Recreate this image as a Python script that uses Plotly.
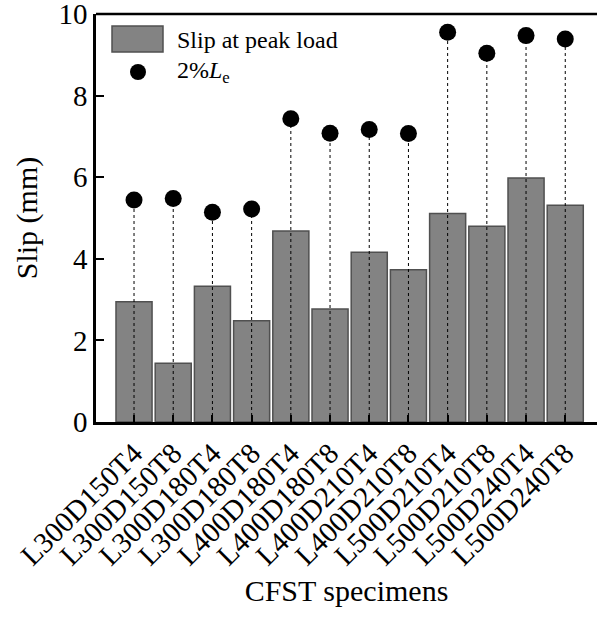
import plotly.graph_objects as go

categories = ["L300D150T4", "L300D150T8", "L300D180T4", "L300D180T8",
              "L400D180T4", "L400D180T8", "L400D210T4", "L400D210T8",
              "L500D210T4", "L500D210T8", "L500D240T4", "L500D240T8"]
slip_peak = [2.95, 1.44, 3.33, 2.48, 4.68, 2.77, 4.16, 3.73, 5.11, 4.80, 5.98, 5.31]
two_pct_le = [5.44, 5.48, 5.14, 5.22, 7.43, 7.08, 7.17, 7.07, 9.55, 9.04, 9.47, 9.39]
y_ticks = [0, 2, 4, 6, 8, 10]

xs = list(range(len(categories)))
FONT = "Liberation Serif"

fig = go.Figure()

lx, ly = [], []
for i, v in zip(xs, two_pct_le):
    lx += [i, i, None]
    ly += [0, v, None]

fig.add_trace(go.Bar(
    x=xs, y=slip_peak, width=0.92, name="Slip at peak load", showlegend=False,
    marker=dict(color="#838383", line=dict(color="#505050", width=1.5)),
))
fig.add_trace(go.Scatter(
    x=lx, y=ly, mode="lines", line=dict(color="black", width=1, dash="dot"),
    showlegend=False, hoverinfo="skip",
))
fig.add_trace(go.Scatter(
    x=xs, y=two_pct_le, mode="markers", name="2%Le", showlegend=False,
    marker=dict(color="black", size=17, symbol="circle"),
))

# manual legend
fig.add_shape(type="rect", xref="paper", yref="paper",
              x0=(112-96)/501, x1=(163-96)/501, y0=(422-52)/408, y1=(422-26)/408,
              fillcolor="#838383", line=dict(color="#505050", width=1.5))
fig.add_shape(type="circle", xref="paper", yref="paper",
              x0=(130-96)/501, x1=(146-96)/501, y0=(422-80)/408, y1=(422-64)/408,
              fillcolor="black", line=dict(color="black", width=0))
fig.add_annotation(xref="paper", yref="paper", x=(175-96)/501, y=(422-40)/408,
                   xanchor="left", yanchor="middle", showarrow=False,
                   text="Slip at peak load", font=dict(size=24, family=FONT, color="black"))
fig.add_annotation(xref="paper", yref="paper", x=(175-96)/501, y=(422-72)/408,
                   xanchor="left", yanchor="middle", showarrow=False,
                   text="2%<i>L</i><sub>e</sub>", font=dict(size=24, family=FONT, color="black"))

fig.update_layout(
    width=597, height=618,
    margin=dict(l=96, r=0, t=14, b=196),
    plot_bgcolor="white", paper_bgcolor="white",
    showlegend=False,
    xaxis=dict(
        range=[-0.97, 11.81], tickmode="array", tickvals=xs, ticktext=categories,
        tickangle=-45, ticks="inside", ticklen=7, tickwidth=2, tickcolor="black",
        showline=True, linewidth=2.5, linecolor="black", mirror=False,
        showgrid=False, zeroline=False, ticklabeloverflow="allow",
        tickfont=dict(size=29, family=FONT, color="black"),
        title=dict(text="CFST specimens", font=dict(size=30, family=FONT, color="black"), standoff=10),
    ),
    yaxis=dict(
        range=[0, 10], tickmode="array", tickvals=y_ticks, automargin=False,
        ticks="inside", ticklen=8, tickwidth=2, tickcolor="black",
        showline=True, linewidth=2.5, linecolor="black",
        showgrid=False, zeroline=False, ticklabeloverflow="allow",
        tickfont=dict(size=29, family=FONT, color="black"),
        title=dict(text="Slip (mm)", font=dict(size=30, family=FONT, color="black"), standoff=12),
    ),
)
fig.add_shape(type="line", xref="paper", yref="paper", x0=0, x1=1, y0=1, y1=1,
              line=dict(color="black", width=2.5))

fig.write_html("out.html")
